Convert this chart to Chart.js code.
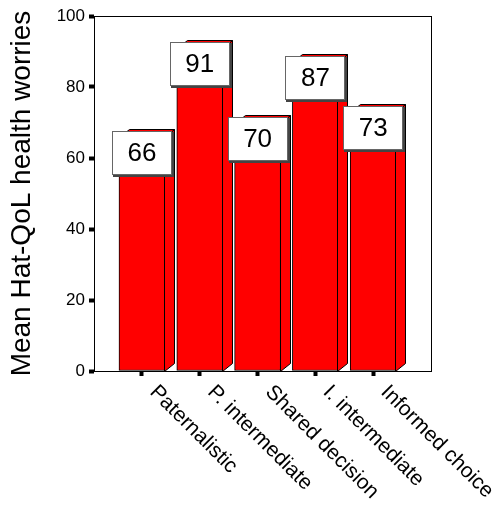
<!DOCTYPE html>
<html><head><meta charset="utf-8">
<script src="https://cdn.jsdelivr.net/npm/chart.js@4.4.0/dist/chart.umd.min.js"></script>
<style>html,body{margin:0;padding:0;background:#fff;}</style>
</head><body>
<canvas id="c" width="497" height="506"></canvas>
<script>
const categories = ["Paternalistic", "P. intermediate", "Shared decision", "I. intermediate", "Informed choice"];
const values = [66, 91, 70, 87, 73];
const yTicks = [0, 20, 40, 60, 80, 100];
const yTitle = "Mean Hat-QoL health worries";

const FONT = "'Liberation Sans', Arial, sans-serif";
const depthX = 10, depthY = 8;

const framePlugin = {
  id: 'frame',
  beforeDatasetsDraw(chart) {
    const {ctx, chartArea: a} = chart;
    ctx.save();
    ctx.strokeStyle = '#000'; ctx.lineWidth = 1;
    ctx.strokeRect(Math.round(a.left) + 0.5, Math.round(a.top) + 0.5,
      Math.round(a.right - a.left), Math.round(a.bottom - a.top));
    ctx.restore();
  }
};

const bar3dPlugin = {
  id: 'bar3d',
  afterDatasetsDraw(chart) {
    const ctx = chart.ctx;
    const meta = chart.getDatasetMeta(0);
    ctx.save();
    ctx.lineWidth = 1; ctx.strokeStyle = '#000'; ctx.fillStyle = '#ff0000';
    meta.data.forEach(bar => {
      const p = bar.getProps(['x', 'y', 'base', 'width'], true);
      const l = Math.round(p.x - p.width / 2) + 0.5, r = Math.round(p.x + p.width / 2) - 0.5;
      const t = Math.round(p.y) + 0.5, b = Math.round(p.base) + 0.5;
      ctx.beginPath();
      ctx.moveTo(r, t); ctx.lineTo(r + depthX, t - depthY); ctx.lineTo(r + depthX, b - depthY); ctx.lineTo(r, b);
      ctx.closePath(); ctx.fill(); ctx.stroke();
      ctx.beginPath();
      ctx.moveTo(l, t); ctx.lineTo(l + depthX, t - depthY); ctx.lineTo(r + depthX, t - depthY); ctx.lineTo(r, t);
      ctx.closePath(); ctx.fill(); ctx.stroke();
    });
    meta.data.forEach((bar, i) => {
      const p = bar.getProps(['x', 'y'], true);
      const bw = 60, bh = 44;
      const bx = Math.round(p.x - bw / 2), by = Math.round(p.y - 6);
      ctx.fillStyle = '#444';
      ctx.fillRect(bx + 1, by + 1, bw + 1, bh + 1);
      ctx.fillStyle = '#fff';
      ctx.fillRect(bx, by, bw, bh);
      ctx.strokeStyle = '#666';
      ctx.strokeRect(bx + 0.5, by + 0.5, bw - 1, bh - 1);
      ctx.fillStyle = '#000';
      ctx.font = `26px ${FONT}`;
      ctx.textAlign = 'center'; ctx.textBaseline = 'middle';
      ctx.fillText(String(values[i]), p.x, by + bh / 2 + 1);
    });
    ctx.restore();
  },
  afterDraw(chart) {
    const ctx = chart.ctx;
    const xs = chart.scales.x;
    ctx.save();
    ctx.font = `21px ${FONT}`;
    ctx.fillStyle = '#000';
    ctx.textAlign = 'left'; ctx.textBaseline = 'middle';
    categories.forEach((c, i) => {
      const px = xs.getPixelForValue(i);
      ctx.save();
      ctx.translate(px + 11, xs.top + 18);
      ctx.rotate(Math.PI / 4);
      ctx.fillText(c, 0, 0);
      ctx.restore();
    });
    ctx.restore();
  }
};

new Chart(document.getElementById('c'), {
  type: 'bar',
  data: {
    datasets: [{
      data: categories.map((c, i) => ({x: i, y: values[i]})),
      backgroundColor: '#ff0000',
      borderColor: '#000',
      borderWidth: 1,
      borderSkipped: false,
      barThickness: 46
    }]
  },
  options: {
    responsive: false,
    animation: false,
    layout: {padding: {top: 16, right: 66, bottom: 0, left: 0}},
    plugins: {legend: {display: false}, tooltip: {enabled: false}},
    scales: {
      x: {
        type: 'linear',
        offset: false,
        min: -0.83, max: 5.0,
        afterBuildTicks: s => { s.ticks = categories.map((c, i) => ({value: i})); },
        afterFit: s => { s.height = 135; },
        ticks: {display: false},
        grid: {offset: false, drawOnChartArea: false, drawTicks: true, tickLength: 5, tickWidth: 4, tickColor: '#000'},
        border: {display: true, color: '#000', width: 1}
      },
      y: {
        min: 0, max: 100,
        afterBuildTicks: s => { s.ticks = yTicks.map(v => ({value: v})); },
        afterFit: s => { s.width = 94; },
        ticks: {color: '#000', padding: 4, font: {family: FONT, size: 17}},
        grid: {drawOnChartArea: false, drawTicks: true, tickLength: 5, tickWidth: 4, tickColor: '#000'},
        border: {display: true, color: '#000', width: 1},
        title: {display: true, text: yTitle, color: '#000', font: {family: FONT, size: 28}, padding: {top: 5, bottom: 0}}
      }
    }
  },
  plugins: [framePlugin, bar3dPlugin]
});
</script>
</body></html>
